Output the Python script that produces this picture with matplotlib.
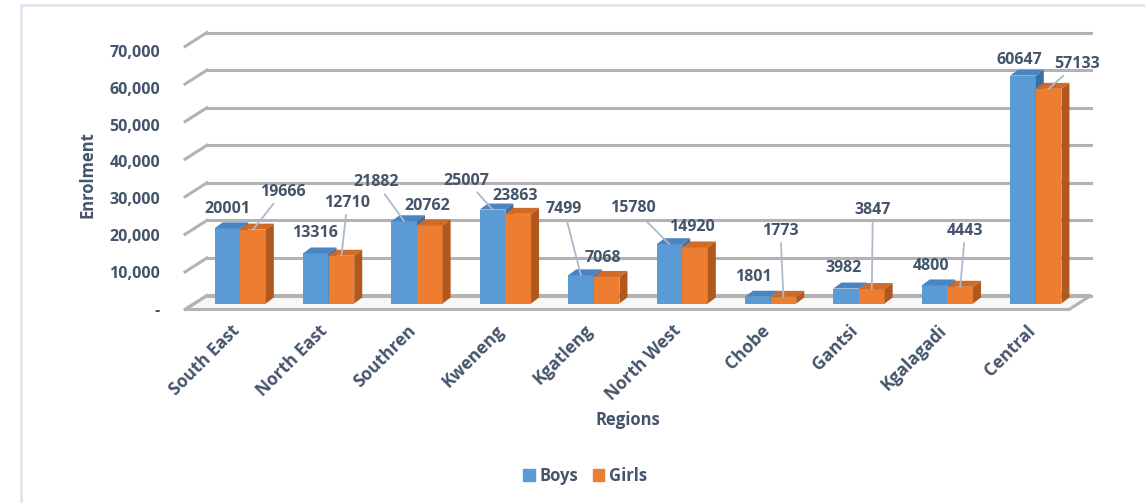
import numpy as np
import matplotlib.pyplot as plt
from matplotlib.patches import Polygon, Patch
from matplotlib.lines import Line2D

regions = ['South East', 'North East', 'Southren', 'Kweneng', 'Kgatleng',
           'North West', 'Chobe', 'Gantsi', 'Kgalagadi', 'Central']
boys = [20001, 13316, 21882, 25007, 7499, 15780, 1801, 3982, 4800, 60647]
girls = [19666, 12710, 20762, 23863, 7068, 14920, 1773, 3847, 4443, 57133]
y_ticks = [0, 10000, 20000, 30000, 40000, 50000, 60000, 70000]

# label offsets (px, up positive) from the bar top, and leader flag
boys_off = [(0, 19, 0), (-1, 20, 0), (-28, 39, 1), (-26, 29, 1), (-17, 66, 1),
            (-36, 36, 1), (-4, 20, 0), (-3, 21, 0), (-4, 19, 0), (-4, 16, 0)]
girls_off = [(30, 38, 1), (6, 53, 1), (-3, 19, 0), (-3, 18, 0), (-4, 19, 0),
             (-3, 20, 0), (-3, 66, 1), (1, 79, 1), (5, 56, 1), (28, 25, 1)]

W, H = 1145, 503
txt = '#44546A'
blue, blue_top, blue_side = '#5B9BD5', '#4A85C2', '#3E6FA3'
orange, orange_top, orange_side = '#ED7D31', '#CF6A28', '#B0581E'
grid_c = '#B3B3B3'
plt.rcParams['font.family'] = ['Open Sans', 'DejaVu Sans']
plt.rcParams['font.weight'] = 'bold'

fig = plt.figure(figsize=(W / 100, H / 100), dpi=100)

# bar plane, in pixels
L, R, top, base = 196, 1080, 40.5, 303.5
ax = fig.add_axes([L / W, 1 - base / H, (R - L) / W, (base - top) / H])
ax.set_xlim(-0.5, 9.5)
ax.set_ylim(0, 70000)
ax.axis('off')
ux = 10 / (R - L)
uy = 70000 / (base - top)

# front plane (tick labels)
fax = fig.add_axes([185 / W, 1 - 308.5 / H, (1069 - 185) / W, (308.5 - 51) / H])
fax.set_ylim(0, 70000)
fax.set_xticks([])
fax.set_yticks(y_ticks)
fax.set_yticklabels(['-'] + [f'{v:,}' for v in y_ticks[1:]], color=txt,
                    fontsize=11.5, fontweight='bold')
fax.tick_params(axis='y', length=0, pad=18)
for s in fax.spines.values():
    s.set_visible(False)
fax.patch.set_alpha(0)

fx, fy = 11 * ux, 6 * uy     # towards the viewer
bx, by = 11 * ux, 8 * uy     # back wall
x0, x1 = -0.5, 9.5

# floor
floor = Polygon([(x0 - fx, -fy), (x1 - fx, -fy), (x1 + bx, by), (x0 + bx, by)],
                closed=True, facecolor='#F7F7F7', edgecolor=grid_c, lw=2.2,
                clip_on=False, zorder=1)
ax.add_patch(floor)

# gridlines on back and side wall
for v in y_ticks:
    ax.add_line(Line2D([x0 + bx, x1 + bx], [v + by, v + by], color=grid_c,
                       lw=2.2, clip_on=False, zorder=1))
    ax.add_line(Line2D([x0 - fx, x0 + bx], [v - fy, v + by], color=grid_c,
                       lw=2.2, clip_on=False, zorder=1))

bw = 0.29
dx, dy = 8 * ux, 6 * uy
x = np.arange(len(regions))


def bar3d(xc, h, front, topc, side, z):
    xl, xr = xc - bw / 2, xc + bw / 2
    ax.bar(xc, h, bw, color=front, zorder=z, clip_on=False)
    ax.add_patch(Polygon([(xl, h), (xr, h), (xr + dx, h + dy), (xl + dx, h + dy)],
                         closed=True, facecolor=topc, edgecolor='none',
                         zorder=z, clip_on=False))
    ax.add_patch(Polygon([(xr, 0), (xr + dx, dy), (xr + dx, h + dy), (xr, h)],
                         closed=True, facecolor=side, edgecolor='none',
                         zorder=z, clip_on=False))


for i in range(len(regions)):
    bar3d(x[i] - bw / 2, boys[i], blue, blue_top, blue_side, 3 + 2 * i)
    bar3d(x[i] + bw / 2, girls[i], orange, orange_top, orange_side, 4 + 2 * i)

# data labels
for vals, offs, sgn in [(boys, boys_off, -1), (girls, girls_off, 1)]:
    for i, v in enumerate(vals):
        ox, oy, lead = offs[i]
        xc = x[i] + sgn * bw / 2
        kw = {}
        if lead:
            kw['arrowprops'] = dict(arrowstyle='-', color='#ADB9CA', lw=1.3,
                                    shrinkA=1, shrinkB=0)
        ax.annotate(str(v), xy=(xc, v), xytext=(ox, oy),
                    textcoords='offset pixels', ha='center', va='center',
                    fontsize=11.5, fontweight='bold', color=txt,
                    annotation_clip=False, zorder=50, **kw)

# category labels
for i, r in enumerate(regions):
    ax.annotate(r, xy=(x[i], 0), xytext=(-10, -18), textcoords='offset pixels',
                ha='right', va='top', rotation=45, rotation_mode='anchor',
                fontsize=12.5, fontweight='bold', color=txt, annotation_clip=False)

fig.text(88 / W, 1 - 175 / H, 'Enrolment', rotation=90, ha='center', va='center',
         fontsize=12, fontweight='bold', color=txt)
fig.text(628 / W, 1 - 420 / H, 'Regions', ha='center', va='center',
         fontsize=12, fontweight='bold', color=txt)

handles = [Patch(color=blue, label='Boys'), Patch(color=orange, label='Girls')]
leg = fig.legend(handles=handles, loc='center', bbox_to_anchor=(585 / W, 1 - 476 / H),
                 ncol=2, frameon=False, handlelength=0.7, handleheight=0.7,
                 handletextpad=0.25, columnspacing=0.9, prop={'size': 12, 'weight': 'bold'})
for t in leg.get_texts():
    t.set_color(txt)

# chart border (top and left visible)
fig.add_artist(Line2D([21 / W, 1], [1 - 5 / H, 1 - 5 / H], color='#DCE2EA', lw=1.8))
fig.add_artist(Line2D([21 / W, 21 / W], [0, 1 - 5 / H], color='#DCE2EA', lw=1.8))

fig.savefig('out.png', dpi=100)
